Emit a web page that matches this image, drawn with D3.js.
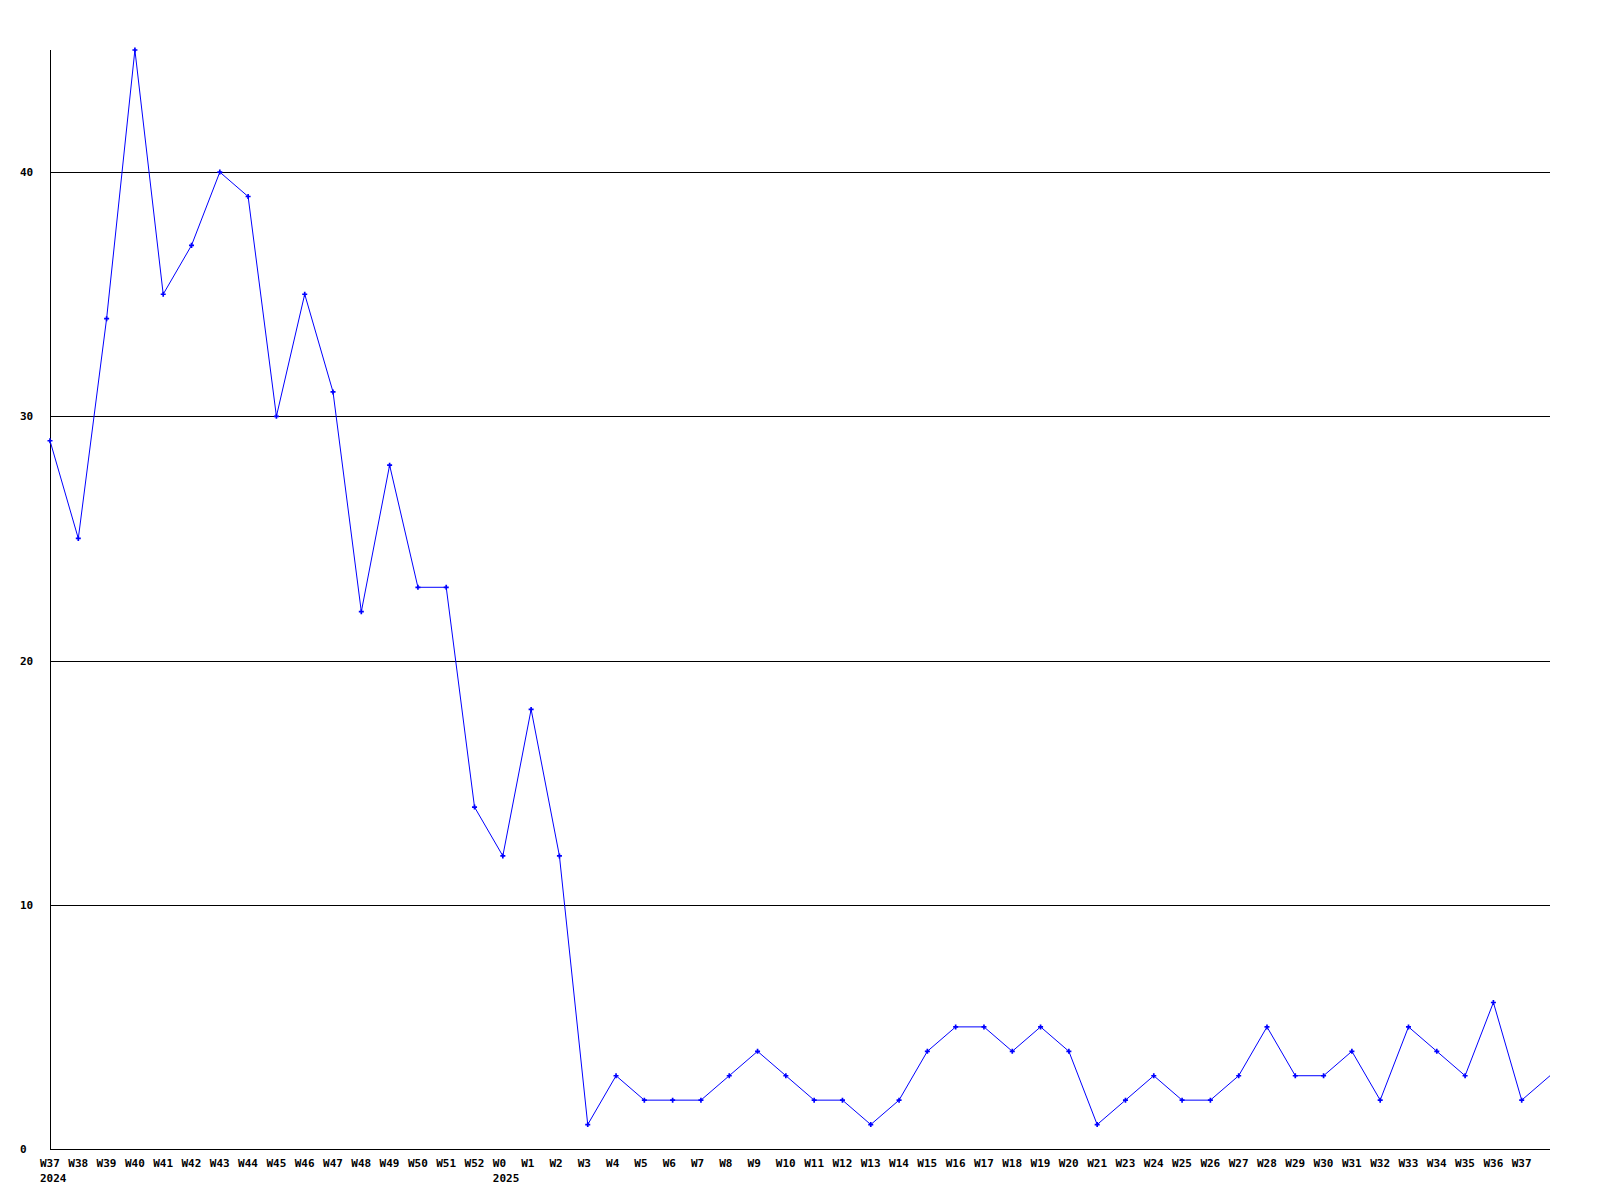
<!DOCTYPE html>
<html>
<head>
<meta charset="utf-8">
<script src="https://cdn.jsdelivr.net/npm/d3@7"></script>
<style>
  html, body { margin: 0; padding: 0; background: #fff; }
  svg { display: block; }
  text { font-family: "DejaVu Sans Mono", "Liberation Mono", monospace; font-weight: bold; font-size: 11px; fill: #000; }
</style>
</head>
<body>
<svg id="chart" width="1600" height="1200"></svg>
<script>
// Week labels (one per point; final point has no label)
const weeks = ["W37","W38","W39","W40","W41","W42","W43","W44","W45","W46","W47","W48","W49","W50","W51","W52",
  "W0","W1","W2","W3","W4","W5","W6","W7","W8","W9","W10","W11","W12","W13","W14","W15","W16","W17","W18","W19","W20","W21",
  "W23","W24","W25","W26","W27","W28","W29","W30","W31","W32","W33","W34","W35","W36","W37",""];
// Year labels placed under the week where a year begins
const yearLabels = [["W37", 0, "2024"], ["W0", 16, "2025"]];
// Series values
const values = [29,25,34,45,35,37,40,39,30,35,31,22,28,23,23,14,
  12,18,12,1,3,2,2,2,3,4,3,2,2,1,2,4,5,5,4,5,4,1,
  2,3,2,2,3,5,3,3,4,2,5,4,3,6,2,3];
// Y tick labels
const yTicks = [0,10,20,30,40];
// Number of points with a drawn marker (last point sits on the edge without one)
const markerCount = 53;

const svg = d3.select("#chart");
const mLeft = 50, mRight = 1550, mTop = 50, mBottom = 1149;

const x = d3.scalePoint().domain(d3.range(values.length)).range([mLeft, mRight]);
const y = d3.scaleLinear().domain([0, 45]).range([mBottom, mTop]);

// Grid lines
svg.append("g").selectAll("line").data(yTicks.filter(d => d > 0)).join("line")
  .attr("x1", mLeft).attr("x2", mRight)
  .attr("y1", d => Math.round(y(d)) + 0.5).attr("y2", d => Math.round(y(d)) + 0.5)
  .attr("stroke", "#000").attr("stroke-width", 1).attr("shape-rendering", "crispEdges");

// Axes lines
svg.append("line").attr("x1", mLeft + 0.5).attr("x2", mLeft + 0.5).attr("y1", mTop).attr("y2", mBottom + 1)
  .attr("stroke", "#000").attr("shape-rendering", "crispEdges");
svg.append("line").attr("x1", mLeft).attr("x2", mRight).attr("y1", mBottom + 0.5).attr("y2", mBottom + 0.5)
  .attr("stroke", "#000").attr("shape-rendering", "crispEdges");

// Y tick labels
svg.append("g").selectAll("text").data(yTicks).join("text")
  .attr("x", 20).attr("y", d => y(d) + 4)
  .text(d => d);

// X labels
svg.append("g").selectAll("text").data(weeks).join("text")
  .attr("x", (d, i) => x(i) - 10).attr("y", 1167)
  .text(d => d);

svg.append("g").selectAll("text").data(yearLabels).join("text")
  .attr("x", d => x(d[1]) - 10).attr("y", 1182)
  .text(d => d[2]);

// Line
const line = d3.line().x((d, i) => x(i)).y(d => y(d));
svg.append("path").datum(values)
  .attr("d", line).attr("fill", "none").attr("stroke", "#0000ff").attr("stroke-width", 1);

// Markers
const sym = d3.symbol().type(d3.symbolCross).size(14);
svg.append("g").selectAll("path").data(values.slice(0, markerCount)).join("path")
  .attr("transform", (d, i) => `translate(${x(i)},${y(d)})`)
  .attr("d", sym).attr("fill", "#0000ff");
</script>
</body>
</html>
